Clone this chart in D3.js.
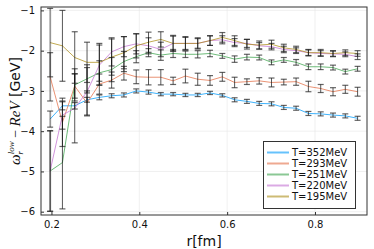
<!DOCTYPE html>
<html>
<head>
<meta charset="utf-8">
<script src="https://cdn.jsdelivr.net/npm/d3@7"></script>
<style>
  body { margin: 0; background: #fff; }
  svg { display: block; font-family: "DejaVu Sans", sans-serif; }
</style>
</head>
<body>
<svg width="374" height="249"></svg>
<script>
//data
const rValues = [0.197, 0.225, 0.253, 0.281, 0.309, 0.337, 0.365, 0.393, 0.421, 0.449, 0.477, 0.505, 0.533,
  0.561, 0.589, 0.617, 0.645, 0.673, 0.701, 0.729, 0.757, 0.785, 0.813, 0.841, 0.869, 0.897];

const labels = ['T=352MeV', 'T=293MeV', 'T=251MeV', 'T=220MeV', 'T=195MeV'];
const colors = ['#009afa', '#e36f47', '#3ea44e', '#c371d2', '#ac8e18'];

const t352 = [-3.70, -3.37, -3.37, -3.22, -3.16, -3.12, -3.10, -3.00, -3.03, -3.08, -3.08, -3.10, -3.10,
  -3.05, -3.11, -3.22, -3.26, -3.31, -3.32, -3.41, -3.43, -3.56, -3.57, -3.60, -3.62, -3.68];
const t293 = [-2.65, -3.78, -2.88, -3.30, -2.83, -2.73, -2.56, -2.65, -2.66, -2.66, -2.75, -2.63, -2.71,
  -2.74, -2.65, -2.79, -2.77, -2.75, -2.79, -2.78, -2.77, -2.89, -2.94, -3.02, -2.96, -3.02];
const t251 = [-4.99, -4.78, -2.85, -2.70, -2.55, -2.47, -2.27, -2.15, -2.05, -2.11, -2.07, -2.09, -2.09,
  -2.07, -2.13, -2.21, -2.16, -2.17, -2.29, -2.23, -2.29, -2.40, -2.40, -2.42, -2.52, -2.45];
const t220 = [-4.99, -3.60, -3.43, -3.02, -2.36, -2.03, -1.90, -1.83, -1.88, -1.97, -1.82, -1.82, -1.82,
  -1.75, -1.73, -1.80, -1.82, -1.88, -1.90, -1.97, -2.00, -2.05, -2.07, -2.08, -2.09, -2.15];
const t195 = [-1.80, -1.88, -2.17, -2.29, -2.29, -2.16, -2.05, -1.88, -1.79, -1.72, -1.82, -1.82, -1.82,
  -1.75, -1.67, -1.75, -1.84, -1.86, -1.84, -1.93, -1.97, -2.05, -2.05, -2.07, -2.05, -2.07];

const e352 = [0.20, 0.10, 0.08, 0.06, 0.06, 0.05, 0.05, 0.05, 0.05, 0.04, 0.04, 0.04, 0.04,
  0.04, 0.04, 0.05, 0.05, 0.05, 0.05, 0.05, 0.05, 0.05, 0.05, 0.05, 0.05, 0.05];
const e293 = [0.60, 0.60, 0.30, 0.30, 0.25, 0.20, 0.17, 0.17, 0.19, 0.19, 0.09, 0.17, 0.15,
  0.12, 0.11, 0.13, 0.07, 0.08, 0.11, 0.07, 0.09, 0.13, 0.10, 0.10, 0.10, 0.11];
const e251 = [1.00, 1.15, 0.40, 0.35, 0.30, 0.30, 0.25, 0.15, 0.10, 0.13, 0.10, 0.08, 0.09,
  0.08, 0.06, 0.08, 0.07, 0.06, 0.06, 0.06, 0.07, 0.07, 0.07, 0.06, 0.06, 0.06];
const e220 = [1.00, 0.35, 0.86, 0.60, 0.50, 0.35, 0.25, 0.25, 0.20, 0.18, 0.18, 0.15, 0.12,
  0.12, 0.10, 0.10, 0.10, 0.08, 0.08, 0.08, 0.07, 0.07, 0.07, 0.07, 0.06, 0.07];
const e195 = [0.85, 0.88, 0.64, 0.50, 0.47, 0.45, 0.40, 0.30, 0.25, 0.19, 0.20, 0.17, 0.14,
  0.12, 0.12, 0.12, 0.12, 0.10, 0.10, 0.09, 0.08, 0.08, 0.08, 0.07, 0.07, 0.07];

const yTicks = [-1, -2, -3, -4, -5, -6];
const xTicks = [0.2, 0.4, 0.6, 0.8];

const values = [t352, t293, t251, t220, t195];
const errors = [e352, e293, e251, e220, e195];
const series = labels.map((name, k) => ({
  name, color: colors[k],
  points: rValues.map((r, i) => ({ r, v: values[k][i], e: errors[k][i] }))
}));

//set up
const svg = d3.select('svg');
const pLeft = 41, pRight = 367, pTop = 7, pBottom = 215;

const x = d3.scaleLinear().domain([0.1762, 0.9184]).range([pLeft, pRight]);
const y = d3.scaleLinear().domain([-0.9155, -6.082]).range([pTop, pBottom]);

//grid
svg.append('g')
  .selectAll('line')
  .data(yTicks)
  .join('line')
  .attr('x1', pLeft).attr('x2', pRight)
  .attr('y1', d => y(d)).attr('y2', d => y(d))
  .attr('stroke', '#e6e6e6').attr('stroke-width', 0.6);

svg.append('g')
  .selectAll('line')
  .data(xTicks)
  .join('line')
  .attr('y1', pTop).attr('y2', pBottom)
  .attr('x1', d => x(d)).attr('x2', d => x(d))
  .attr('stroke', '#e6e6e6').attr('stroke-width', 0.6);

//axes
const yAxis = svg.append('g')
  .attr('transform', `translate(${pLeft},0)`)
  .call(d3.axisLeft(y).tickValues(yTicks).tickSizeInner(-3).tickSizeOuter(0).tickPadding(6)
    .tickFormat(d => String(d).replace('-', '\u2212')));
yAxis.select('.domain').remove();
yAxis.selectAll('text').attr('font-size', 10).attr('fill', '#111').attr('font-family', '"DejaVu Sans", sans-serif');
yAxis.selectAll('line').attr('stroke', '#333');

const xAxis = svg.append('g')
  .attr('transform', `translate(0,${pBottom})`)
  .call(d3.axisBottom(x).tickValues(xTicks).tickSizeInner(-3).tickSizeOuter(0).tickPadding(6)
    .tickFormat(d3.format('.1f')));
xAxis.select('.domain').remove();
xAxis.selectAll('text').attr('font-size', 10).attr('fill', '#111').attr('font-family', '"DejaVu Sans", sans-serif');
xAxis.selectAll('line').attr('stroke', '#333');

//lines
const line = d3.line().x(d => x(d.r)).y(d => y(d.v));

svg.append('g')
  .selectAll('path')
  .data(series)
  .join('path')
  .attr('d', d => line(d.points))
  .attr('fill', 'none')
  .attr('stroke', d => d.color)
  .attr('stroke-opacity', 0.75)
  .attr('stroke-width', 1);

//error bars
const bars = svg.append('g')
  .selectAll('g')
  .data(series)
  .join('g')
  .selectAll('g')
  .data(d => d.points)
  .join('g');

bars.append('line')
  .attr('x1', d => x(d.r)).attr('x2', d => x(d.r))
  .attr('y1', d => y(d.v + d.e)).attr('y2', d => y(d.v - d.e))
  .attr('stroke', '#111').attr('stroke-opacity', 0.7).attr('stroke-width', 1);

bars.selectAll('.cap')
  .data(d => [d.v + d.e, d.v - d.e].map(v => ({ r: d.r, v })))
  .join('line')
  .attr('class', 'cap')
  .attr('x1', d => x(d.r) - 3).attr('x2', d => x(d.r) + 3)
  .attr('y1', d => y(d.v)).attr('y2', d => y(d.v))
  .attr('stroke', '#222').attr('stroke-opacity', 0.7).attr('stroke-width', 1.2);

//frame
svg.append('rect')
  .attr('x', pLeft).attr('y', pTop)
  .attr('width', pRight - pLeft).attr('height', pBottom - pTop)
  .attr('fill', 'none').attr('stroke', '#333').attr('stroke-width', 1);

//axis labels
svg.append('text')
  .attr('x', (pLeft + pRight) / 2).attr('y', 246)
  .attr('text-anchor', 'middle')
  .attr('font-size', 14)
  .attr('fill', '#111')
  .text('r[fm]');

const ylab = svg.append('text')
  .attr('transform', `translate(20,${(pTop + pBottom) / 2}) rotate(-90)`)
  .attr('text-anchor', 'middle')
  .attr('font-size', 14)
  .attr('fill', '#111');
const serif = '"Liberation Serif", "DejaVu Serif", serif';
ylab.append('tspan').attr('font-family', serif).attr('font-style', 'italic').attr('font-size', 15).text('ω');
ylab.append('tspan').attr('font-family', serif).attr('font-style', 'italic').attr('font-size', 9)
  .attr('dy', 3).text('r');
ylab.append('tspan').attr('font-family', serif).attr('font-style', 'italic').attr('font-size', 9)
  .attr('dx', -3.5).attr('dy', -9).text('low');
ylab.append('tspan').attr('font-family', serif).attr('font-size', 14)
  .attr('dy', 6).text(' \u2212 ');
ylab.append('tspan').attr('font-family', serif).attr('font-style', 'italic').attr('font-size', 15).text('ReV');
ylab.append('tspan').attr('font-size', 14).text(' [GeV]');

//legend
const legend = svg.append('g');
legend.append('rect')
  .attr('x', 263.5).attr('y', 141.5)
  .attr('width', 92).attr('height', 67)
  .attr('fill', '#fff').attr('stroke', '#333').attr('stroke-width', 1);

const item = legend.selectAll('g')
  .data(series)
  .join('g')
  .attr('transform', (d, i) => `translate(0,${152.5 + i * 11})`);

item.append('line')
  .attr('x1', 267).attr('x2', 289)
  .attr('stroke', d => d.color).attr('stroke-opacity', 0.6).attr('stroke-width', 2);

item.append('text')
  .attr('x', 292).attr('dy', '0.35em')
  .attr('font-size', 10)
  .attr('fill', '#111')
  .text(d => d.name);
</script>
</body>
</html>
